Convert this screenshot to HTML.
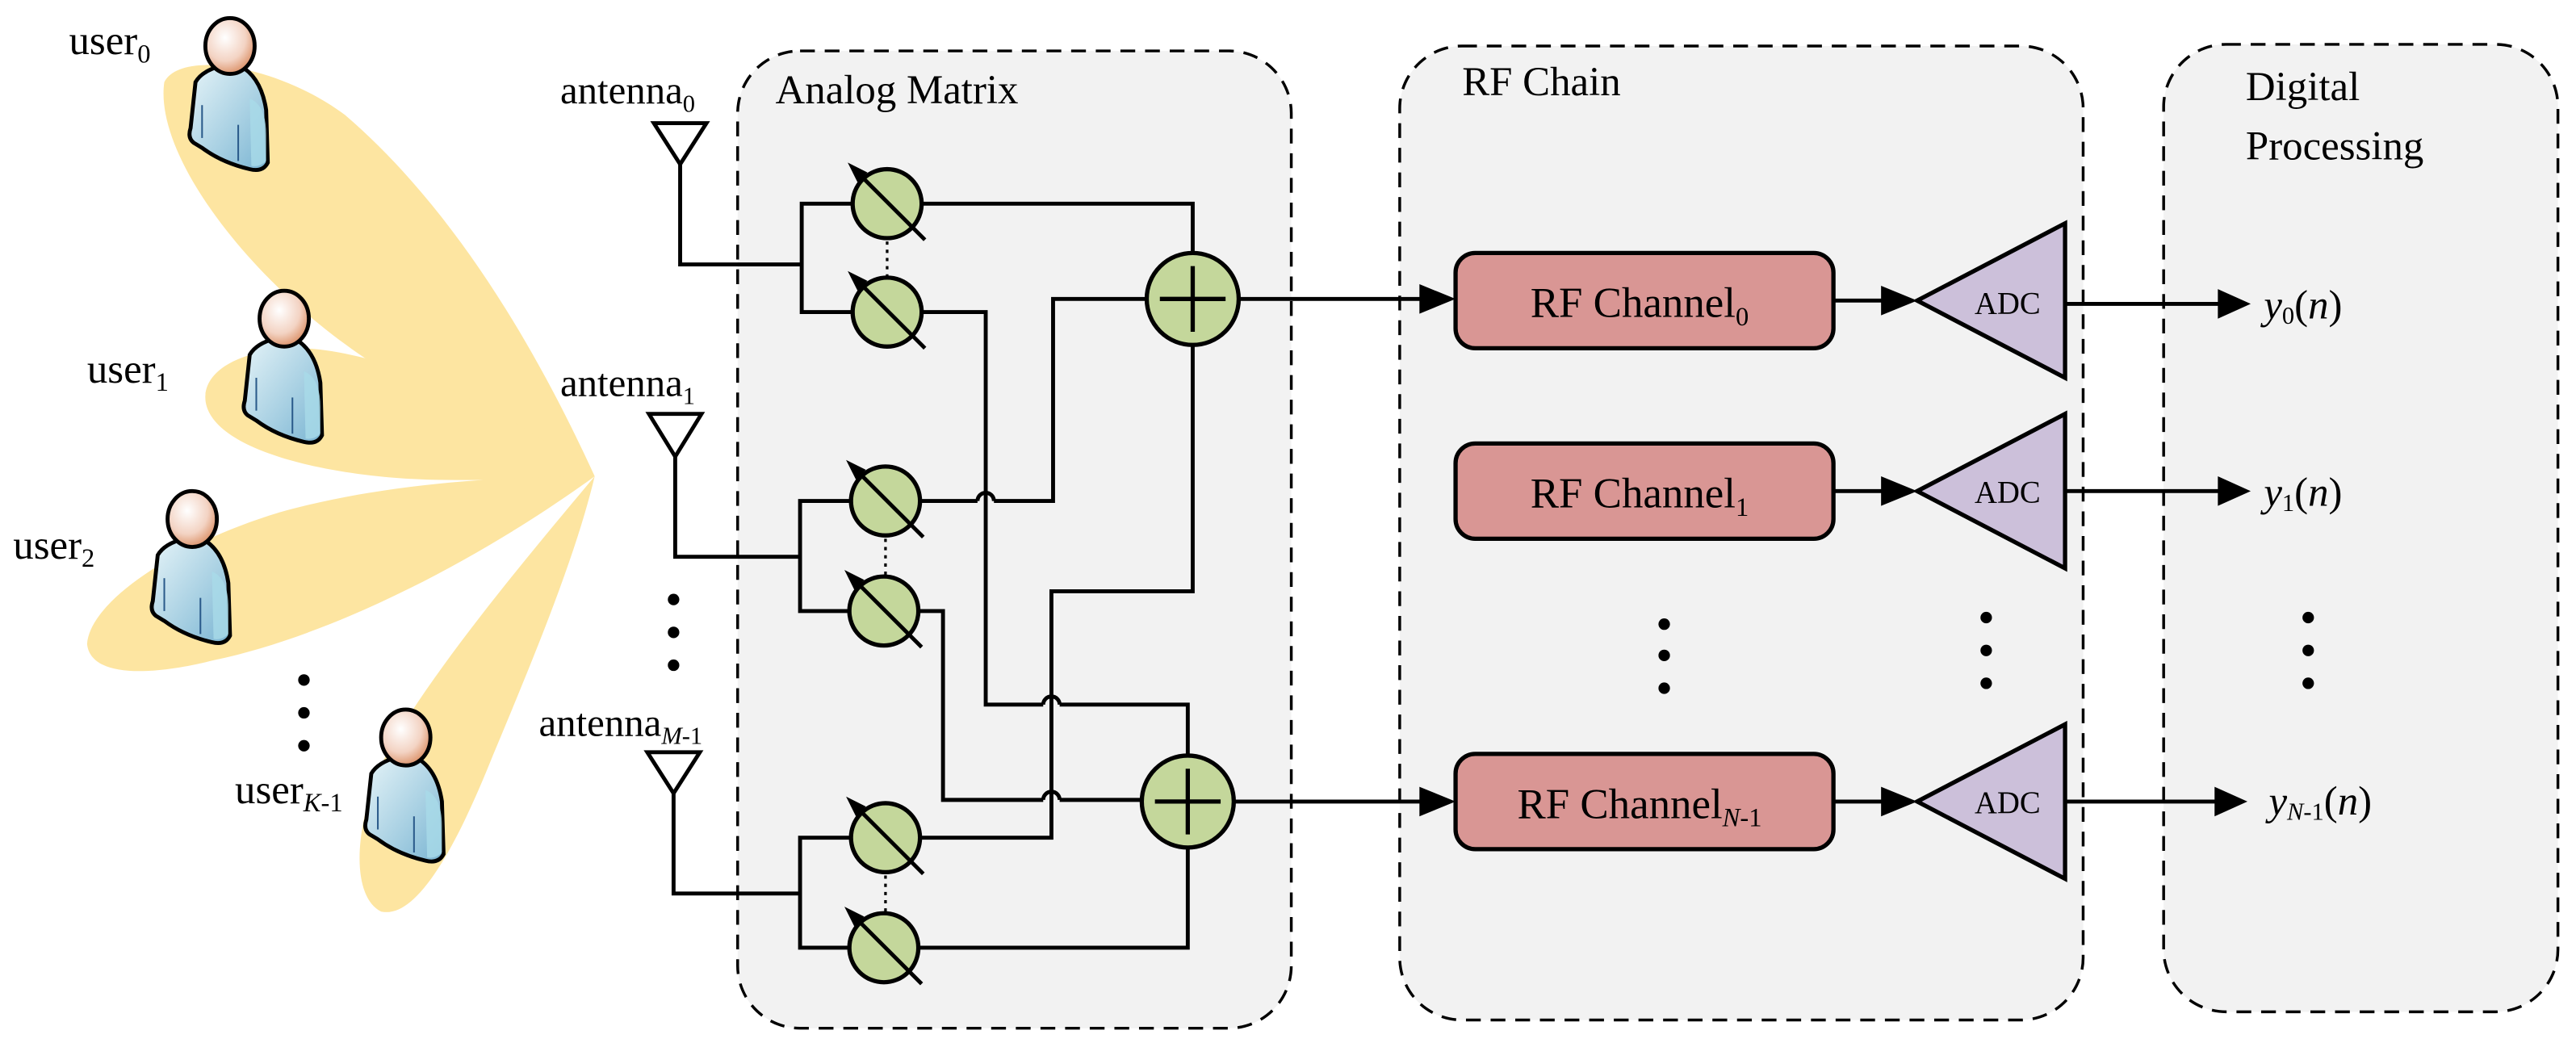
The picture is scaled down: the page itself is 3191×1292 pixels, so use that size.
<!DOCTYPE html>
<html><head><meta charset="utf-8"><style>
html,body{margin:0;padding:0;background:#fff;}
svg{display:block;font-family:"Liberation Serif","Times New Roman",serif;}
svg text{font-family:"Liberation Serif","Times New Roman",serif;fill:#000;}
</style></head><body>
<svg width="3191" height="1292" viewBox="0 0 1568 635" preserveAspectRatio="none" xmlns="http://www.w3.org/2000/svg" font-family="Liberation Serif, serif">
<defs>
<radialGradient id="skin" cx="0.4" cy="0.35" r="0.7"><stop offset="0" stop-color="#fff"/><stop offset="0.6" stop-color="#f3d3c3"/><stop offset="1" stop-color="#d98a5e"/></radialGradient>
<linearGradient id="shirt" x1="0" y1="0" x2="1" y2="1"><stop offset="0" stop-color="#e6f4f8"/><stop offset="0.6" stop-color="#a6cfe2"/><stop offset="1" stop-color="#7ab4d2"/></linearGradient>
<g id="person">
<path d="M4,38 Q8,31 20,28 L31,28 Q44,35 47,55 L48,87 Q45,93 37,91 Q20,87 8,78 L3,75 Q-1,72 1,66 Z" fill="url(#shirt)" stroke="#000" stroke-width="2.4"/>
<path d="M37,48 Q47,52 47,70 L47,86 Q43,90 38,89 Z" fill="#a9dbe9" opacity="0.8"/>
<path d="M20,27 L31,27 L30,33 Q25,35 21,33 Z" fill="#6aa7cf"/>
<line x1="8" y1="52" x2="8" y2="72" stroke="#2a5a8a" stroke-width="1"/>
<line x1="30" y1="64" x2="30" y2="86" stroke="#2a5a8a" stroke-width="1"/>
<ellipse cx="25" cy="16" rx="15" ry="17" fill="url(#skin)" stroke="#000" stroke-width="2.4"/>
</g>
<g id="ps">
<ellipse cx="0" cy="0" rx="21" ry="21" fill="#c4d79b" stroke="#000" stroke-width="2.6"/>
<line x1="23" y1="22" x2="-19" y2="-20" stroke="#000" stroke-width="2.4"/>
<polygon points="-24,-25 -12,-19 -18,-13" fill="#000"/>
</g>
<g id="sum">
<circle cx="0" cy="0" r="28" fill="#c4d79b" stroke="#000" stroke-width="2.6"/>
<line x1="-20" y1="0" x2="20" y2="0" stroke="#000" stroke-width="2.6"/>
<line x1="0" y1="-20" x2="0" y2="20" stroke="#000" stroke-width="2.6"/>
</g>
</defs>

<g fill="#fde49c" opacity="0.95">
<path d="M362,290 C330,220 280,130 210,70 C170,40 110,30 100,50 C95,85 130,140 180,185 C240,240 320,270 362,290Z"/>
<path d="M362,290 C310,250 240,215 185,212 C140,212 120,230 126,248 C135,275 200,290 260,292 C300,293 340,291 362,290Z"/>
<path d="M362,290 C300,290 230,295 170,312 C110,330 55,365 53,392 C55,412 90,412 130,402 C210,385 300,335 362,290Z"/>
<path d="M362,290 C320,340 270,400 240,450 C215,495 212,545 232,555 C255,560 280,510 300,460 C325,400 350,340 362,290Z"/>
</g>

<use href="#person" x="115" y="12"/>
<use href="#person" x="148" y="178"/>
<use href="#person" x="92" y="300"/>
<use href="#person" x="222" y="433"/>
<g font-size="25">
<text x="42" y="33">user<tspan font-size="16" dy="5">0</tspan></text>
<text x="53" y="233">user<tspan font-size="16" dy="5">1</tspan></text>
<text x="8" y="340">user<tspan font-size="16" dy="5">2</tspan></text>
<text x="143" y="489">user<tspan font-size="16" dy="5" font-style="italic">K</tspan><tspan font-size="16">-1</tspan></text>
</g>
<g fill="#000"><circle cx="185" cy="414" r="3.5"/><circle cx="185" cy="434" r="3.5"/><circle cx="185" cy="454" r="3.5"/>
<circle cx="410" cy="365" r="3.5"/><circle cx="410" cy="385" r="3.5"/><circle cx="410" cy="405" r="3.5"/></g>

<g fill="#f2f2f2" stroke="#000" stroke-width="1.7" stroke-dasharray="9,6">
<rect x="449" y="31" width="337" height="595" rx="38"/>
<rect x="852" y="28" width="416" height="593" rx="38"/>
<rect x="1317" y="27" width="240" height="589" rx="38"/>
</g>
<g font-size="25">
<text x="472" y="63">Analog Matrix</text>
<text x="890" y="58">RF Chain</text>
<text x="1367" y="61">Digital</text>
<text x="1367" y="97">Processing</text>
</g>

<g font-size="24">
<text x="341" y="63">antenna<tspan font-size="15" dy="5">0</tspan></text>
<text x="341" y="241">antenna<tspan font-size="15" dy="5">1</tspan></text>
<text x="328" y="448">antenna<tspan font-size="15" dy="5" font-style="italic">M</tspan><tspan font-size="15">-1</tspan></text>
</g>
<g fill="none" stroke="#000" stroke-width="2.4">
<polygon points="398,75 430,75 414,100"/>
<polygon points="395,252 427,252 411,278"/>
<polygon points="394,458 426,458 410,483"/>
<polyline points="414,100 414,161 488,161"/>
<polyline points="519,124 488,124 488,190 519,190"/>
<polyline points="411,278 411,339 487,339"/>
<polyline points="518,305 487,305 487,372 517,372"/>
<polyline points="410,483 410,544 487,544"/>
<polyline points="518,510 487,510 487,577 517,577"/>
<polyline points="561,124 726,124 726,154"/>
<polyline points="561,190 600,190 600,429 635,429"/>
<path d="M635,429 a5,5 0 0 1 10,0"/>
<polyline points="645,429 723,429 723,460"/>
<polyline points="560,305 595,305"/>
<path d="M595,305 a5,5 0 0 1 10,0"/>
<polyline points="605,305 641,305 641,182 698,182"/>
<polyline points="559,372 574,372 574,487 635,487"/>
<path d="M635,487 a5,5 0 0 1 10,0"/>
<polyline points="645,487 695,487"/>
<polyline points="726,210 726,360 640,360 640,510 560,510"/>
<polyline points="559,577 723,577 723,516"/>
<line x1="754" y1="182" x2="870" y2="182"/>
<line x1="751" y1="488" x2="870" y2="488"/>
</g>
<g fill="none" stroke="#000" stroke-width="1.6" stroke-dasharray="2,3">
<line x1="540" y1="147" x2="540" y2="168"/>
<line x1="539" y1="328" x2="539" y2="350"/>
<line x1="539" y1="533" x2="539" y2="555"/>
</g>
<use href="#ps" x="540" y="124"/><use href="#ps" x="540" y="190"/>
<use href="#ps" x="539" y="305"/><use href="#ps" x="538" y="372"/>
<use href="#ps" x="539" y="510"/><use href="#ps" x="538" y="577"/>
<use href="#sum" x="726" y="182"/><use href="#sum" x="723" y="488"/>

<g fill="#d99694" stroke="#000" stroke-width="2.6">
<rect x="886" y="154" width="230" height="58" rx="12"/>
<rect x="886" y="270" width="230" height="58" rx="12"/>
<rect x="886" y="459" width="230" height="58" rx="12"/>
</g>
<g font-size="26" text-anchor="middle">
<text x="998" y="193">RF Channel<tspan font-size="16" dy="5">0</tspan></text>
<text x="998" y="309">RF Channel<tspan font-size="16" dy="5">1</tspan></text>
<text x="998" y="498">RF Channel<tspan font-size="16" dy="5" font-style="italic">N</tspan><tspan font-size="16">-1</tspan></text>
</g>
<g fill="#000">
<polygon points="864,173 886,182 864,191"/>
<polygon points="864,479 886,488 864,497"/>
</g>
<g stroke="#000" stroke-width="2.4" fill="none">
<line x1="1116" y1="183" x2="1150" y2="183"/>
<line x1="1116" y1="299" x2="1150" y2="299"/>
<line x1="1116" y1="488" x2="1150" y2="488"/>
<line x1="1257" y1="185" x2="1352" y2="185"/>
<line x1="1257" y1="299" x2="1352" y2="299"/>
<line x1="1257" y1="488" x2="1350" y2="488"/>
</g>
<g fill="#000">
<polygon points="1145,174 1167,183 1145,192"/>
<polygon points="1145,290 1167,299 1145,308"/>
<polygon points="1145,479 1167,488 1145,497"/>
<polygon points="1350,176 1370,185 1350,194"/>
<polygon points="1350,290 1370,299 1350,308"/>
<polygon points="1348,479 1368,488 1348,497"/>
</g>
<g fill="#ccc0da" stroke="#000" stroke-width="2.6">
<polygon points="1167,183 1257,136 1257,230"/>
<polygon points="1167,299 1257,252 1257,346"/>
<polygon points="1167,488 1257,441 1257,535"/>
</g>
<g font-size="19" text-anchor="middle">
<text x="1222" y="191">ADC</text><text x="1222" y="306">ADC</text><text x="1222" y="495">ADC</text>
</g>
<g fill="#000">
<circle cx="1013" cy="380" r="3.5"/><circle cx="1013" cy="399" r="3.5"/><circle cx="1013" cy="419" r="3.5"/>
<circle cx="1209" cy="376" r="3.5"/><circle cx="1209" cy="396" r="3.5"/><circle cx="1209" cy="416" r="3.5"/>
<circle cx="1405" cy="376" r="3.5"/><circle cx="1405" cy="396" r="3.5"/><circle cx="1405" cy="416" r="3.5"/>
</g>
<g font-size="25">
<text x="1378" y="194"><tspan font-style="italic">y</tspan><tspan font-size="15" dy="3">0</tspan><tspan dy="-3">(</tspan><tspan font-style="italic">n</tspan>)</text>
<text x="1378" y="308"><tspan font-style="italic">y</tspan><tspan font-size="15" dy="3">1</tspan><tspan dy="-3">(</tspan><tspan font-style="italic">n</tspan>)</text>
<text x="1381" y="496"><tspan font-style="italic">y</tspan><tspan font-size="15" dy="3" font-style="italic">N</tspan><tspan font-size="15">-1</tspan><tspan dy="-3">(</tspan><tspan font-style="italic">n</tspan>)</text>
</g>
</svg>
</body></html>
